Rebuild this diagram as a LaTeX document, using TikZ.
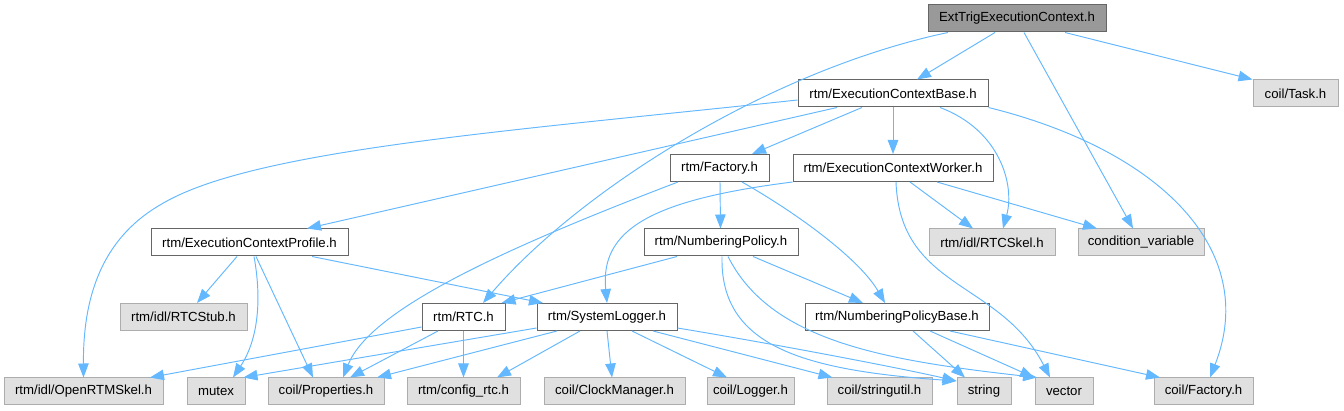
\documentclass[tikz,border=0pt]{standalone}
\usepackage{fontspec}
\setmainfont{Liberation Sans}
\usetikzlibrary{arrows.meta,calc}
\definecolor{edgec}{HTML}{63B8FF}
\definecolor{gsix}{HTML}{666666}
\definecolor{gnine}{HTML}{999999}
\definecolor{gfill}{HTML}{E0E0E0}
\begin{document}
\begin{tikzpicture}[x=1pt,y=-1pt,
  base/.style={draw, rectangle, minimum height=27pt, inner sep=0pt, line width=1pt, font=\fontsize{13.2}{15}\selectfont, text=black},
  wbox/.style={base, draw=gsix, fill=white},
  gbox/.style={base, draw=gnine!80!white, fill=gfill},
  rbox/.style={base, draw=gsix, fill=gnine},
  dep/.style={draw=edgec, line width=0.95pt, -{Triangle[length=14pt,width=10.5pt]}}
]
\useasboundingbox[fill=white] (0,0) rectangle (1344,411);
% row 1
\node[rbox, minimum width=178pt] (root) at (1017,18.5) {ExtTrigExecutionContext.h};
% row 2
\node[wbox, minimum width=190pt] (ecb) at (893,93.5) {rtm/ExecutionContextBase.h};
\node[gbox, minimum width=85pt] (task) at (1295.5,93.5) {coil/Task.h};
% row 3
\node[wbox, minimum width=99pt] (factory) at (719.5,168) {rtm/Factory.h};
\node[wbox, minimum width=200pt] (ecw) at (893,168) {rtm/ExecutionContextWorker.h};
% row 4
\node[wbox, minimum width=197pt] (ecp) at (249.5,242.5) {rtm/ExecutionContextProfile.h};
\node[wbox, minimum width=154pt] (np) at (721,242.5) {rtm/NumberingPolicy.h};
\node[gbox, minimum width=126pt] (rtcskel) at (992,242.5) {rtm/idl/RTCSkel.h};
\node[gbox, minimum width=126pt] (condvar) at (1141,242.5) {condition\_variable};
% row 5
\node[gbox, minimum width=127pt] (rtcstub) at (183.5,317) {rtm/idl/RTCStub.h};
\node[wbox, minimum width=83pt] (rtc) at (463.5,317) {rtm/RTC.h};
\node[wbox, minimum width=140pt] (syslog) at (607,317) {rtm/SystemLogger.h};
\node[wbox, minimum width=184pt] (npb) at (897,317) {rtm/NumberingPolicyBase.h};
% row 6
\node[gbox, minimum width=159pt] (openrtm) at (83.5,391.5) {rtm/idl/OpenRTMSkel.h};
\node[gbox, minimum width=58pt] (mutex) at (216,391.5) {mutex};
\node[gbox, minimum width=116pt] (props) at (326,391.5) {coil/Properties.h};
\node[gbox, minimum width=113pt] (config) at (463.5,391.5) {rtm/config\_rtc.h};
\node[gbox, minimum width=141pt] (clock) at (614.5,391.5) {coil/ClockManager.h};
\node[gbox, minimum width=87pt] (logger) at (750.5,391.5) {coil/Logger.h};
\node[gbox, minimum width=105pt] (stringutil) at (879.5,391.5) {coil/stringutil.h};
\node[gbox, minimum width=54pt] (string) at (984,391.5) {string};
\node[gbox, minimum width=58pt] (vector) at (1064,391.5) {vector};
\node[gbox, minimum width=99pt] (cfactory) at (1203.5,391.5) {coil/Factory.h};
% edges from root
\draw[dep] ([xshift=-22pt]root.south) -- ([xshift=24pt]ecb.north);
\draw[dep] ([xshift=-69pt]root.south) .. controls (770,70) and (580,190) .. ([xshift=19.5pt]rtc.north);
\draw[dep] ([xshift=7pt]root.south) -- ([xshift=-8pt]condvar.north);
\draw[dep] ([xshift=48pt]root.south) -- (task.north west);
% edges from ExecutionContextBase
\draw[dep] ([yshift=-6.5pt]ecb.west) .. controls (500,132) and (250,150) .. (160,205) .. controls (100,240) and (83,300) .. (openrtm.north);
\draw[dep] ([xshift=-56pt]ecb.south) -- ([xshift=57.5pt]ecp.north);
\draw[dep] ([xshift=-31pt]ecb.south) -- ([xshift=32.5pt]factory.north);
\draw[dep] (ecb.south) -- (ecw.north);
\draw[dep] ([xshift=47pt]ecb.south) .. controls (1000,130) and (1015,185) .. ([xshift=11pt]rtcskel.north);
\draw[dep] (ecb.south east) .. controls (1160,150) and (1260,250) .. ([xshift=6.5pt]cfactory.north);
% edges from Factory
\draw[dep] ([xshift=-41.5pt]factory.south) .. controls (500,250) and (370,310) .. ([xshift=17pt]props.north);
\draw[dep] ([xshift=0.5pt]factory.south) -- ([xshift=-0.5pt]np.north);
\draw[dep] ([xshift=22.5pt]factory.south) .. controls (800,215) and (860,260) .. ([xshift=-12pt]npb.north);
% edges from ExecutionContextWorker
\draw[dep] (ecw.south west) .. controls (650,200) and (600,230) .. (syslog.north);
\draw[dep] ([xshift=17pt]ecw.south) -- ([xshift=-19pt]rtcskel.north);
\draw[dep] ([xshift=44pt]ecw.south) -- ([xshift=-44pt]condvar.north);
\draw[dep] ([xshift=3pt]ecw.south) .. controls (900,290) and (1000,280) .. ([xshift=-14pt]vector.north);
% edges from ExecutionContextProfile
\draw[dep] ([xshift=-12.5pt]ecp.south) -- ([xshift=13.5pt]rtcstub.north);
\draw[dep] ([xshift=4.5pt]ecp.south) .. controls (262,300) and (258,340) .. ([xshift=17pt]mutex.north);
\draw[dep] ([xshift=6.5pt]ecp.south) -- ([xshift=-13pt]props.north);
\draw[dep] ([xshift=62.5pt]ecp.south) -- ([xshift=-64pt]syslog.north);
% edges from NumberingPolicy
\draw[dep] ([xshift=-44pt]np.south) -- ([xshift=38pt]rtc.north);
\draw[dep] ([xshift=32pt]np.south) -- ([xshift=-34pt]npb.north);
\draw[dep] ([xshift=1pt]np.south) .. controls (720,345) and (800,370) .. ([yshift=10.5pt]string.west);
\draw[dep] ([xshift=7pt]np.south) .. controls (770,340) and (880,360) .. ([xshift=-27pt]vector.north);
% edges from RTC
\draw[dep] ([yshift=-10pt]rtc.west) -- ([xshift=66.5pt]openrtm.north);
\draw[dep] ([xshift=-25.5pt]rtc.south) -- ([xshift=24pt]props.north);
\draw[dep] (rtc.south) -- (config.north);
% edges from SystemLogger
\draw[dep] ([yshift=-11pt]syslog.west) -- ([xshift=-2pt]mutex.north east);
\draw[dep] ([xshift=-50pt]syslog.south) -- ([xshift=51pt]props.north);
\draw[dep] ([xshift=-27pt]syslog.south) -- ([xshift=33.5pt]config.north);
\draw[dep] (syslog.south) -- ([xshift=-2.5pt]clock.north);
\draw[dep] ([xshift=25pt]syslog.south) -- ([xshift=-23.5pt]logger.north);
\draw[dep] ([xshift=46pt]syslog.south) -- ([xshift=-47pt]stringutil.north);
\draw[dep] ([yshift=-11pt]syslog.east) .. controls (780,345) and (900,368) .. ([yshift=10.5pt]string.west);
% edges from NumberingPolicyBase
\draw[dep] ([xshift=16pt]npb.south) -- ([xshift=-19pt]string.north);
\draw[dep] ([xshift=33pt]npb.south) -- ([xshift=-30pt]vector.north);
\draw[dep] ([xshift=53pt]npb.south) -- ([xshift=-43.5pt]cfactory.north);
\end{tikzpicture}
\end{document}
